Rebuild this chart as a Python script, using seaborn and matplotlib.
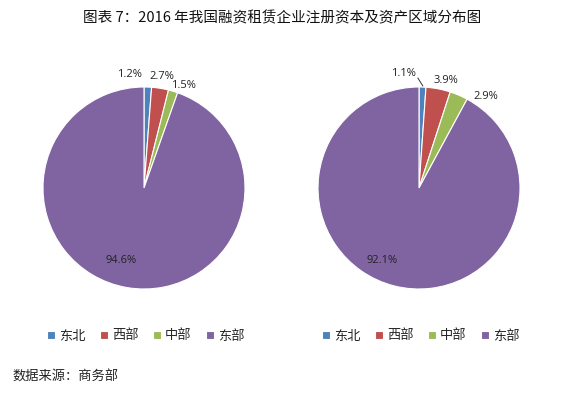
import numpy as np
import matplotlib
matplotlib.use("Agg")
import matplotlib.pyplot as plt
import seaborn as sns

# data
regions = ["东北", "西部", "中部", "东部"]
capital_share = [1.2, 2.7, 1.5, 94.6]   # 注册资本
asset_share = [1.1, 3.9, 2.9, 92.1]     # 资产
colors = ["#4F81BD", "#C0504D", "#9BBB59", "#8064A2"]

title = "图表 7：2016 年我国融资租赁企业注册资本及资产区域分布图"
source = "数据来源：商务部"

sns.set_style("white")
plt.rcParams['font.family'] = ['Noto Sans CJK SC', 'DejaVu Sans']

fig = plt.figure(figsize=(5.65, 3.95), dpi=100)


def draw_pie(ax, values, nudges, big_pos, leader=False):
    wedges, _ = ax.pie(values, colors=colors, startangle=90, counterclock=False,
                       wedgeprops=dict(edgecolor="white", linewidth=0.8))
    angles = np.cumsum([0] + values)
    for i, v in enumerate(values):
        mid = 90 - (angles[i] + angles[i + 1]) / 2 * 3.6
        if v > 50:
            x, y = big_pos
        else:
            x = 1.12 * np.cos(np.radians(mid)) + nudges[i][0]
            y = 1.12 * np.sin(np.radians(mid)) + nudges[i][1]
        ax.text(x, y, f"{v}%", ha="center", va="center", fontsize=8,
                color="#222222", family=['Open Sans', 'DejaVu Sans'])
        if leader and i == 0:
            # short leader line from label down to the thin slice
            ax.plot([x + 0.14, x + 0.19], [y - 0.04, y - 0.12],
                    color="#333333", lw=0.7, clip_on=False)
    ax.set_xlim(-1, 1)
    ax.set_ylim(-1, 1)
    ax.set_aspect("equal")
    ax.axis("off")
    return wedges


ax1 = fig.add_axes([43 / 565, (395 - 289) / 395, 202 / 565, 202 / 395])
w1 = draw_pie(ax1, capital_share,
              [(-0.19, 0.0), (0.0, 0.0), (0.07, -0.06), None],
              (-0.23, -0.72))

ax2 = fig.add_axes([318 / 565, (395 - 289) / 395, 202 / 565, 202 / 395])
w2 = draw_pie(ax2, asset_share,
              [(-0.19, 0.01), (0.05, -0.04), (0.22, -0.12), None],
              (-0.37, -0.72), leader=True)

for w, cx in [(w1, 146 / 565), (w2, 421 / 565)]:
    fig.legend(w, regions, loc="center", bbox_to_anchor=(cx, (395 - 336) / 395),
               ncol=4, frameon=False, fontsize=9.5, handlelength=0.6, handleheight=0.6,
               handletextpad=0.3, columnspacing=1.1)

fig.text(282 / 565, 1 - 18 / 395, title, ha="center", va="center", fontsize=10.5,
         color="#111111")
fig.text(12 / 565, 1 - 377 / 395, source, ha="left", va="center", fontsize=9.5,
         color="#222222")

fig.savefig("out.png", dpi=100, facecolor="white")
